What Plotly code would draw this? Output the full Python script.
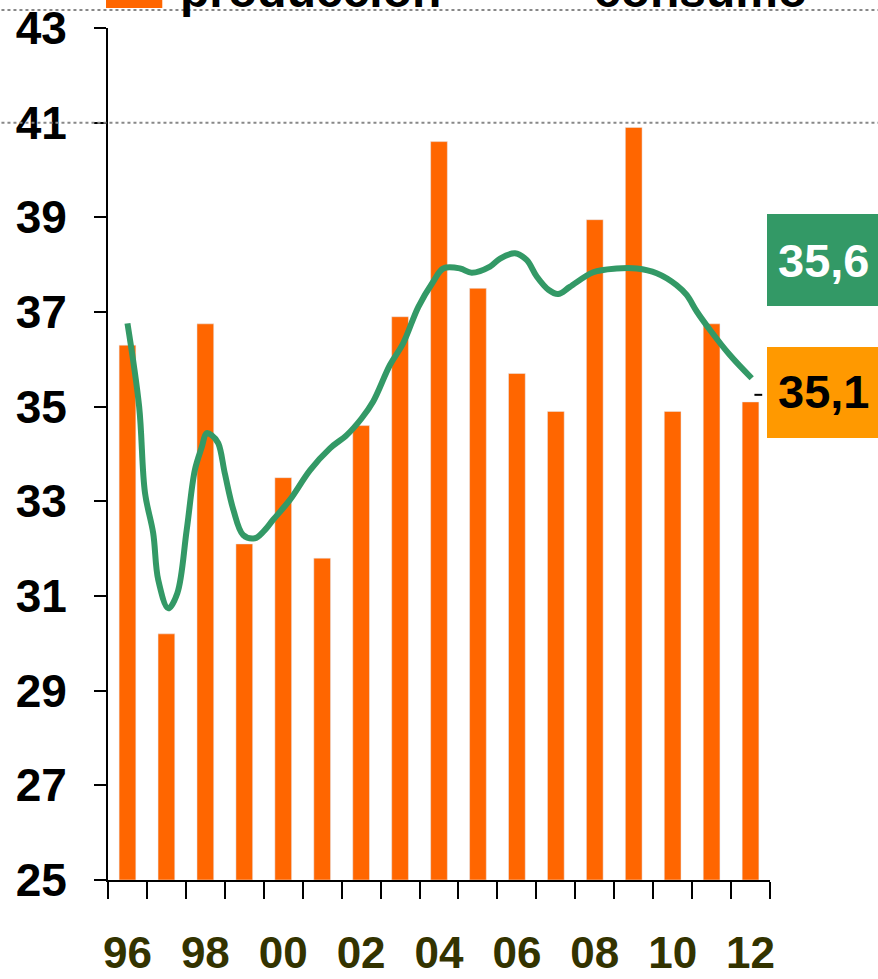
import plotly.graph_objects as go

# years on the x axis (two-digit labels)
years = ["96", "97", "98", "99", "00", "01", "02", "03", "04",
         "05", "06", "07", "08", "09", "10", "11", "12"]
produccion = [36.3, 30.2, 36.75, 32.1, 33.5, 31.8, 34.6, 36.9, 40.6,
              37.5, 35.7, 34.9, 38.95, 40.9, 34.9, 36.75, 35.1]

# consumo: smooth curve (x in year-index units)
consumo_x = [0.0, 0.30, 0.45, 0.66, 0.79, 1.05, 1.28, 1.52, 1.73, 1.91,
             2.03, 2.16, 2.33, 2.50, 2.72, 2.97, 3.27, 3.49, 3.74, 4.17,
             4.69, 5.20, 5.63, 6.01, 6.31, 6.74, 7.08, 7.47, 7.85, 8.11,
             8.54, 8.84, 9.31, 9.57, 9.95, 10.25, 10.51, 10.81, 11.06, 11.36,
             11.96, 12.56, 13.08, 13.59, 14.10, 14.36, 14.62, 14.96, 15.47, 16.03]
consumo_y = [36.76, 35.0, 33.18, 32.33, 31.34, 30.74, 31.06, 32.39, 33.66, 34.15,
             34.44, 34.40, 34.23, 33.59, 32.82, 32.29, 32.22, 32.36, 32.61, 33.03,
             33.66, 34.12, 34.40, 34.75, 35.11, 35.88, 36.34, 37.11, 37.64, 37.92,
             37.92, 37.83, 37.96, 38.13, 38.24, 38.10, 37.75, 37.47, 37.38, 37.53,
             37.84, 37.92, 37.92, 37.82, 37.57, 37.36, 37.01, 36.62, 36.09, 35.60]

last_consumo = "35,6"
last_produccion = "35,1"

orange = "#FF6600"
green = "#339966"
font = "Liberation Sans, Arial, sans-serif"
base = 25

idx = list(range(len(years)))

fig = go.Figure()
fig.add_trace(go.Bar(x=idx, y=[v - base for v in produccion], base=base,
                     marker_color=orange, width=0.43, name="producción"))
fig.add_trace(go.Scatter(x=consumo_x, y=consumo_y, mode="lines",
                         line=dict(color=green, width=6, shape="spline"),
                         name="consumo"))
# invisible trace on second x axis to carry the tick labels
fig.add_trace(go.Scatter(x=[0], y=[base], xaxis="x2", mode="markers",
                         marker=dict(opacity=0), showlegend=False, hoverinfo="skip"))

fig.update_layout(
    width=878, height=979,
    margin=dict(l=108, r=108, t=28, b=99),
    paper_bgcolor="white", plot_bgcolor="white",
    showlegend=False,
    font=dict(family=font, color="black"),
    xaxis=dict(range=[-0.5, 16.5], tickvals=[i - 0.5 for i in range(len(years) + 1)],
               ticktext=[""] * (len(years) + 1), ticks="outside", ticklen=17,
               tickwidth=2, tickcolor="black", showline=True, linecolor="black",
               linewidth=2, showgrid=False, zeroline=False, automargin=False),
    xaxis2=dict(range=[-0.5, 16.5], overlaying="x", side="bottom", anchor="y",
                tickvals=idx[::2], ticktext=years[::2], ticks="",
                ticklabelstandoff=43, automargin=False,
                tickfont=dict(size=44, color="#333300", family=font, weight="bold"),
                showline=False, showgrid=False, zeroline=False),
    yaxis=dict(range=[25, 43], tickvals=list(range(25, 44, 2)), ticks="outside",
               ticklen=12, tickwidth=2, tickcolor="black", showline=True,
               linecolor="black", linewidth=2, showgrid=False, zeroline=False,
               ticklabelstandoff=18, automargin=False,
               tickfont=dict(size=46, color="black", family=font, weight="bold")),
)

# dotted lines across the top
for yp in [(880 - 10) / 852, (41 - 25) / 18]:
    fig.add_shape(type="line", xref="paper", yref="paper", x0=-0.17, x1=1.17,
                  y0=yp, y1=yp, line=dict(color="#888888", width=2, dash="dot"))

# legend (cut off at top)
fig.add_shape(type="rect", xref="paper", yref="paper", x0=-0.003, x1=0.082,
              y0=(880 - 8) / 852, y1=(880 + 30) / 852, fillcolor=orange, line_width=0)
fig.add_annotation(text="<b>producción</b>", xref="paper", yref="paper",
                   x=(178 - 108) / 662, y=(880 - 19) / 852, xanchor="left",
                   yanchor="bottom", showarrow=False,
                   font=dict(size=48, color="black", family=font))
fig.add_annotation(text="<b>consumo</b>", xref="paper", yref="paper",
                   x=(592 - 108) / 662, y=(880 - 19) / 852, xanchor="left",
                   yanchor="bottom", showarrow=False,
                   font=dict(size=48, color="black", family=font))

# end value boxes
fig.add_shape(type="rect", xref="paper", yref="paper", x0=(767 - 108) / 662,
              x1=1.2, y0=(880 - 306) / 852, y1=(880 - 214) / 852,
              fillcolor=green, line_width=0)
fig.add_annotation(text="<b>" + last_consumo + "</b>", xref="paper", yref="paper",
                   x=(823 - 108) / 662, y=(880 - 260) / 852, showarrow=False,
                   xanchor="center", yanchor="middle",
                   font=dict(size=47, color="white", family=font))
fig.add_shape(type="rect", xref="paper", yref="paper", x0=(767 - 108) / 662,
              x1=1.2, y0=(880 - 438) / 852, y1=(880 - 347) / 852,
              fillcolor="#FF9900", line_width=0)
fig.add_annotation(text="<b>" + last_produccion + "</b>", xref="paper", yref="paper",
                   x=(823 - 108) / 662, y=(880 - 392) / 852, showarrow=False,
                   xanchor="center", yanchor="middle",
                   font=dict(size=47, color="black", family=font))
fig.add_shape(type="line", x0=16.1, x1=16.3, y0=35.25, y1=35.25,
              line=dict(color="black", width=2))

fig.write_html("out.html", config={"displayModeBar": False},
               post_script="document.body.style.margin='0';")
